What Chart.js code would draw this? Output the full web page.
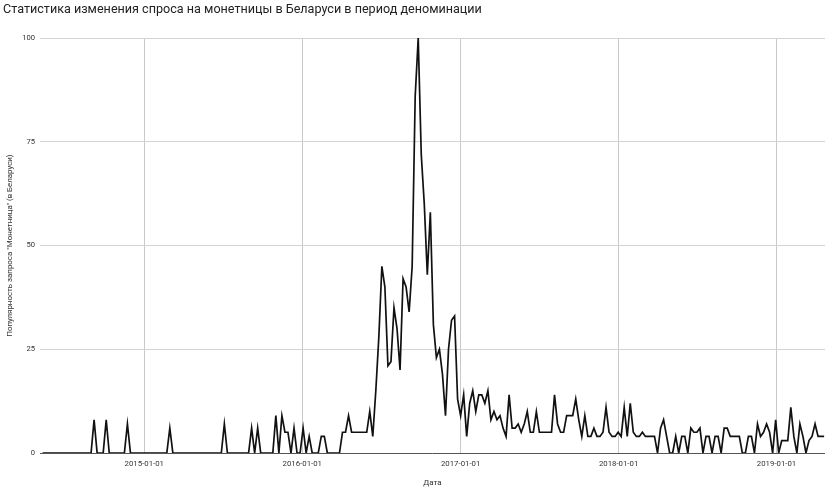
<!DOCTYPE html>
<html>
<head>
<meta charset="utf-8">
<script src="https://cdn.jsdelivr.net/npm/chart.js@4.4.1/dist/chart.umd.min.js"></script>
<style>
  html, body { margin: 0; padding: 0; background: #fff; }
  canvas { display: block; }
</style>
</head>
<body>
<canvas id="chart" width="825" height="487"></canvas>
<script>
// Данные: недельная популярность запроса "Монетница" (Google Trends, Беларусь)
const firstWeek = '2014-05-11';
const popularity = [
    0, 0, 0, 0, 0, 0, 0, 0, 0, 0, 0, 0, 0, 0, 0, 0, 0, 8, 0, 0,
    0, 8, 0, 0, 0, 0, 0, 0, 7, 0, 0, 0, 0, 0, 0, 0, 0, 0, 0, 0,
    0, 0, 6, 0, 0, 0, 0, 0, 0, 0, 0, 0, 0, 0, 0, 0, 0, 0, 0, 0,
    7, 0, 0, 0, 0, 0, 0, 0, 0, 6, 0, 6, 0, 0, 0, 0, 0, 9, 0, 9,
    5, 5, 0, 6, 0, 0, 6, 0, 4, 0, 0, 0, 4, 4, 0, 0, 0, 0, 0, 5,
    5, 9, 5, 5, 5, 5, 5, 5, 10, 4, 15, 28, 45, 40, 21, 22, 35, 30, 20, 42,
    40, 34, 45, 86, 100, 72, 60, 43, 58, 31, 23, 25, 19, 9, 25, 32, 33, 13, 9, 14,
    4, 12, 15, 10, 14, 14, 12, 15, 8, 10, 8, 9, 6, 4, 14, 6, 6, 7, 5, 7,
    10, 5, 5, 10, 5, 5, 5, 5, 5, 14, 7, 5, 5, 9, 9, 9, 13, 8, 4, 9,
    4, 4, 6, 4, 4, 5, 11, 5, 4, 4, 5, 4, 11, 4, 12, 5, 4, 4, 5, 4,
    4, 4, 4, 0, 6, 8, 4, 0, 0, 4, 0, 4, 4, 0, 6, 5, 5, 6, 0, 4,
    4, 0, 4, 4, 0, 6, 6, 4, 4, 4, 4, 0, 0, 4, 4, 0, 7, 4, 5, 7,
    5, 0, 8, 0, 3, 3, 3, 11, 4, 0, 7, 4, 0, 3, 4, 7, 4, 4, 4
];
const yearTicks = ['2015-01-01', '2016-01-01', '2017-01-01', '2018-01-01', '2019-01-01'];
const yTicks = [0, 25, 50, 75, 100];
const rangeStart = '2014-05-05';
const rangeEnd = '2019-04-23';

// дата -> номер дня
const toDay = s => Date.parse(s + 'T00:00:00Z') / 86400000;
const startDay = toDay(firstWeek);
const points = popularity.map((v, i) => ({ x: startDay + 7 * i, y: v }));
const tickNames = {};
yearTicks.forEach(d => { tickNames[toDay(d)] = d; });

const FONT = 'Roboto, "Liberation Sans", Arial, sans-serif';

new Chart(document.getElementById('chart'), {
    type: 'line',
    data: {
        datasets: [{
            data: points,
            borderColor: '#111',
            borderWidth: 1.7,
            pointRadius: 0,
            tension: 0,
            fill: false
        }]
    },
    options: {
        responsive: false,
        animation: false,
        layout: { padding: { left: 3, top: 0, right: 0, bottom: 0 } },
        plugins: {
            legend: { display: false },
            tooltip: { enabled: false },
            title: {
                display: true,
                text: 'Статистика изменения спроса на монетницы в Беларуси в период деноминации',
                align: 'start',
                color: '#222',
                font: { family: FONT, size: 12.6, weight: 'normal', lineHeight: 1.2 },
                padding: { top: 2, bottom: 21 }
            }
        },
        scales: {
            x: {
                type: 'linear',
                min: toDay(rangeStart),
                max: toDay(rangeEnd),
                afterBuildTicks: scale => {
                    scale.ticks = yearTicks.map(d => ({ value: toDay(d) }));
                },
                afterFit: scale => { scale.height = 34; },
                border: { display: false },
                grid: { color: '#c9c9c9', lineWidth: 1, drawTicks: false },
                ticks: {
                    autoSkip: false,
                    maxRotation: 0,
                    padding: 6,
                    color: '#333',
                    font: { family: FONT, size: 7.8 },
                    callback: value => tickNames[value] || ''
                },
                title: {
                    display: true,
                    text: 'Дата',
                    color: '#333',
                    font: { family: FONT, size: 8, lineHeight: 1 },
                    padding: { top: 0, bottom: 0 }
                }
            },
            y: {
                min: 0,
                max: 100,
                afterBuildTicks: scale => {
                    scale.ticks = yTicks.map(v => ({ value: v }));
                },
                afterFit: scale => { scale.width = 37; },
                border: { display: false },
                grid: {
                    drawTicks: false,
                    color: c => c.tick && c.tick.value === 0 ? '#555' : '#d3d3d3',
                    lineWidth: 1
                },
                ticks: {
                    padding: 5,
                    color: '#333',
                    font: { family: FONT, size: 7.6 }
                },
                title: {
                    display: true,
                    text: 'Популярность запроса "Монетница" (в Беларуси)',
                    color: '#333',
                    font: { family: FONT, size: 7.9, lineHeight: 1.2 },
                    padding: { top: 2, bottom: 0 }
                }
            }
        }
    }
});
</script>
</body>
</html>
